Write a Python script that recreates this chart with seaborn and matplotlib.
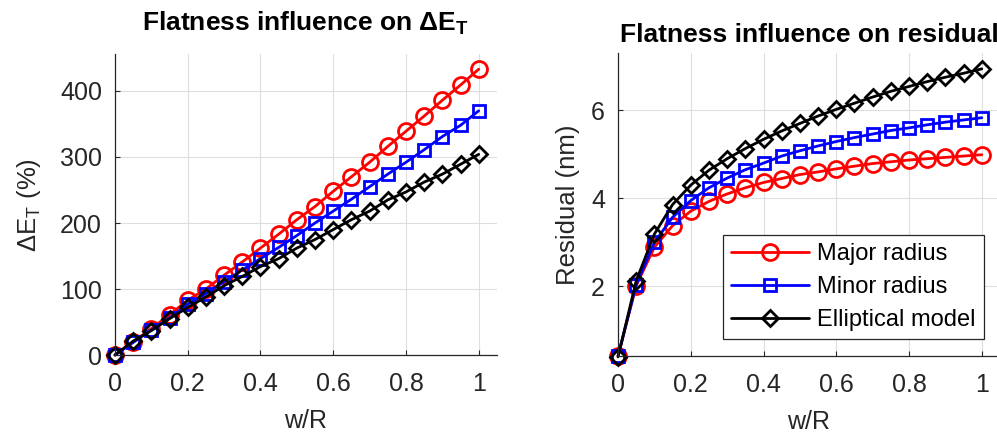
import matplotlib
matplotlib.use("Agg")
import matplotlib.pyplot as plt
import numpy as np
import pandas as pd
import seaborn as sns

# ---------------- data ----------------
w_ratio = [0.00, 0.05, 0.10, 0.15, 0.20, 0.25, 0.30, 0.35, 0.40, 0.45, 0.50,
           0.55, 0.60, 0.65, 0.70, 0.75, 0.80, 0.85, 0.90, 0.95, 1.00]

series_names = ["Major radius", "Minor radius", "Elliptical model"]

deltaE_major = [0, 20, 40, 61, 83, 100, 121, 141, 162, 183, 205,
                225, 248, 270, 292, 316, 339, 362, 386, 409, 433]
deltaE_minor = [0, 19, 38, 56, 77, 93, 111, 129, 146, 163, 181,
                200, 218, 236, 255, 274, 292, 311, 331, 348, 370]
deltaE_ellip = [0, 21, 37, 55, 72, 88, 105, 119, 134, 146, 162,
                175, 190, 205, 218, 235, 247, 262, 274, 289, 304]

resid_major = [0.42, 2.02, 2.89, 3.38, 3.71, 3.93, 4.10, 4.24, 4.36, 4.45, 4.54,
               4.60, 4.67, 4.73, 4.79, 4.83, 4.87, 4.90, 4.93, 4.96, 4.99]
resid_minor = [0.42, 2.04, 3.00, 3.57, 3.95, 4.24, 4.46, 4.65, 4.80, 4.96, 5.08,
               5.19, 5.29, 5.38, 5.46, 5.54, 5.60, 5.67, 5.73, 5.78, 5.83]
resid_ellip = [0.40, 2.13, 3.19, 3.86, 4.30, 4.64, 4.90, 5.13, 5.34, 5.53, 5.70,
               5.87, 6.02, 6.16, 6.30, 6.43, 6.54, 6.65, 6.75, 6.84, 6.94]

xtick_values = [0, 0.2, 0.4, 0.6, 0.8, 1]
xtick_labels = ["0", "0.2", "0.4", "0.6", "0.8", "1"]
ytick_left = [0, 100, 200, 300, 400]
ytick_left_labels = ["0", "100", "200", "300", "400"]
ytick_right = [2, 4, 6]
ytick_right_labels = ["2", "4", "6"]

# ---------------- style ----------------
sns.set_theme(style="whitegrid")
plt.rcParams["font.family"] = ["Liberation Sans", "DejaVu Sans"]
plt.rcParams["mathtext.fontset"] = "custom"
plt.rcParams["mathtext.rm"] = "Liberation Sans"
plt.rcParams["mathtext.it"] = "Liberation Sans:italic"
plt.rcParams["mathtext.bf"] = "Liberation Sans:bold"

TXT = "#262626"
GRID = "#dedede"
styles = {
    "Major radius": dict(color="#ff0000", marker="o", ms=11.5),
    "Minor radius": dict(color="#0000ff", marker="s", ms=8.1),
    "Elliptical model": dict(color="#000000", marker="D", ms=7.8),
}

fig = plt.figure(figsize=(9.97, 4.34), dpi=100)
ax1 = fig.add_axes([0.1153, 0.182, 0.3831, 0.6935])
ax2 = fig.add_axes([0.6199, 0.1797, 0.3831, 0.6982])


def draw(ax, values, with_label):
    for name, vals in zip(series_names, values):
        st = styles[name]
        sns.lineplot(x=w_ratio, y=vals, ax=ax, color=st["color"],
                     marker=st["marker"], markersize=st["ms"],
                     markerfacecolor="none", markeredgecolor=st["color"],
                     markeredgewidth=2.0, linewidth=2.0,
                     label=name if with_label else None, legend=False)
    for ln in ax.lines:
        ln.set_clip_on(False)


draw(ax1, [deltaE_major, deltaE_minor, deltaE_ellip], False)
draw(ax2, [resid_major, resid_minor, resid_ellip], True)

for ax in (ax1, ax2):
    ax.set_facecolor("white")
    ax.set_xlim(0, 1.05)
    ax.set_xticks(xtick_values)
    ax.set_xticklabels(xtick_labels)
    ax.grid(True, color=GRID, linewidth=0.8)
    ax.set_axisbelow(True)
    for side in ("top", "right"):
        ax.spines[side].set_visible(False)
    for side in ("left", "bottom"):
        ax.spines[side].set_visible(True)
        ax.spines[side].set_color(TXT)
        ax.spines[side].set_linewidth(0.9)
    ax.tick_params(axis="both", direction="in", length=3.5, width=0.8,
                   color=TXT, labelcolor=TXT, labelsize=18,
                   left=True, bottom=True)
    ax.tick_params(axis="x", pad=12)
    ax.tick_params(axis="y", pad=9.4)
    ax.set_xlabel("w/R", fontsize=18, color=TXT)
    ax.xaxis.set_label_coords(0.5, -0.178)

ax1.set_ylim(0, 456)
ax1.set_yticks(ytick_left)
ax1.set_yticklabels(ytick_left_labels)
ax1.set_ylabel("ΔE$_\\mathrm{T}$ (%)", fontsize=18.5, color=TXT)
ax1.yaxis.set_label_coords(-0.1885, 0.5)
ax1.set_title("Flatness influence on ΔE$_\\mathbf{T}$", fontsize=19,
              fontweight="bold", color="black", pad=16.5)

ax2.set_ylim(0.42, 7.3)
ax2.set_yticks(ytick_right)
ax2.set_yticklabels(ytick_right_labels)
ax2.set_ylabel("Residual (nm)", fontsize=18.5, color=TXT)
ax2.yaxis.set_label_coords(-0.0995, 0.5)
ax2.set_title("Flatness influence on residual", fontsize=19,
              fontweight="bold", color="black", pad=8)

leg = ax2.legend(loc="lower right", bbox_to_anchor=(0.958, 0.056),
                 borderaxespad=0, fontsize=17, frameon=True, fancybox=False,
                 edgecolor=TXT, facecolor="white", framealpha=1,
                 handlelength=3.3, handletextpad=0.35, borderpad=0.35,
                 labelspacing=0.46)
leg.get_frame().set_linewidth(0.9)
for t in leg.get_texts():
    t.set_color("black")

fig.savefig("out.png", dpi=100, facecolor="white")
